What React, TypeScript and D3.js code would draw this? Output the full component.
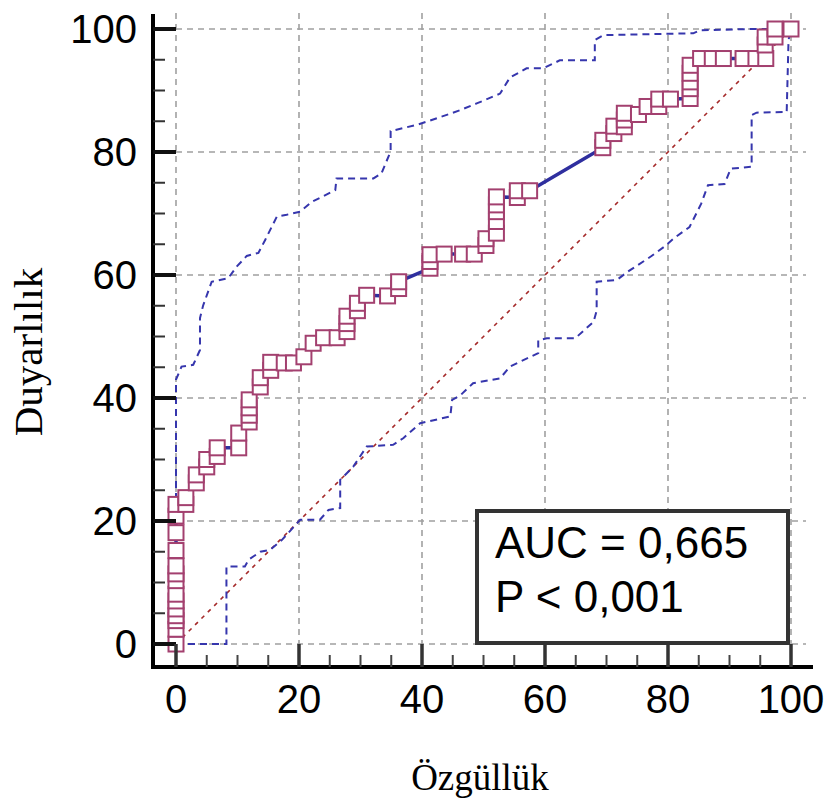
import React from "react";
import * as d3 from "d3";

// ROC points: [100 - specificity-ish axis value, sensitivity]
const rocX = [0,0,0,0,0,0,0,0,0,0,0,0,0,0,
  1.6,1.6,3.3,3.3,5.0,5.0,6.7,6.7,10.2,10.2,
  11.9,11.9,11.9,11.9,13.7,13.7,15.4,15.4,17.6,19.1,20.8,22.3,24.0,26.2,
  27.8,27.8,27.8,29.5,29.5,31.0,34.4,36.2,36.2,
  41.3,41.3,41.3,43.6,46.6,48.5,50.4,50.4,
  52.1,52.1,52.1,52.1,52.1,55.5,55.5,57.5,
  69.4,69.4,71.2,71.2,72.9,72.9,72.9,75.2,76.6,78.5,78.5,80.4,
  83.6,83.6,83.6,83.6,83.6,85.3,87.2,89.0,92.2,94.3,95.9,
  95.8,95.8,97.4,97.4,100];
const rocY = [0,2.4,3.8,4.6,5.7,7.0,8.1,10.3,11.4,12.7,15.2,18.1,20.8,22.7,
  22.7,23.8,26.2,27.5,28.8,30.0,30.5,31.9,31.9,34.3,
  36.1,37.2,38.4,39.7,41.8,43.3,44.5,45.8,45.7,45.7,46.7,48.9,49.8,49.8,
  50.8,52.1,53.3,54.2,55.4,56.7,56.6,57.8,58.9,
  61.1,62.2,63.3,63.4,63.4,63.4,64.8,65.9,
  66.8,68.7,70.3,71.4,72.7,72.6,73.7,73.7,
  80.7,81.9,83.0,84.2,84.1,85.2,86.3,86.1,87.4,87.4,88.6,88.6,
  88.7,90.3,91.4,92.8,94.1,95.2,95.2,95.2,95.2,95.2,95.2,
  97.4,98.7,98.7,100,100];

const upperX = [0,0,0.9,2.8,3.9,3.9,4.4,5.8,8.5,9.9,11.5,13.4,14.5,16.4,18,20.2,22.1,25.9,26.1,32.1,33.4,34.9,34.9,39.1,41.3,46.2,48.9,52.7,54.3,57,59.7,62.4,68.1,68.1,69.5,84.1,85.2,93.9,100];
const upperY = [0,43,45.1,45.4,47.8,53,55,58.9,59.5,61.4,63.1,63.6,65.7,69.5,69.8,70.3,71.9,73.8,75.7,75.7,76.5,80.1,83.4,84.4,85.1,86.8,87.9,89.5,92.1,93.6,93.6,94.9,94.9,98.2,99,99.3,99.8,100,100];

const lowerX = [0,8.2,8.2,11.2,11.8,13.7,15.3,17.2,20.2,23.4,24.8,26.7,26.7,28.8,31,35.3,37,39.7,44.6,44.9,46.2,48.3,52.7,54.3,57,58.9,58.9,60.3,64.9,67.9,68.4,68.4,71.7,73.4,77.2,79.4,81,83.5,85.4,86.5,89.2,90.2,93.6,93.6,94.4,99.3,99.6,100];
const lowerY = [0,0,12.6,12.6,13.7,15,15.3,16.9,20.2,20.2,21.8,22.1,26.7,28.8,32.1,32.4,33.5,35.9,37,39.7,40.4,42.4,43.2,45.1,46.4,47.3,49.4,49.7,49.7,52.4,54.2,58.9,59.2,60.5,63,64.6,66,67.8,71.6,74.6,74.8,77.3,77.6,86,86.4,86.5,98.2,100];

const tickValues = [0, 20, 40, 60, 80, 100];
const minorTicks = d3.range(0, 101, 5);
const xTitle = "Özgüllük";
const yTitle = "Duyarlılık";
const statLines = ["AUC = 0,665", "P < 0,001"];

export default function App() {
  const x = d3.scaleLinear().domain([0, 100]).range([176, 791]);
  const y = d3.scaleLinear().domain([0, 100]).range([644, 29]);
  const line = d3.line<[number, number]>().x((d) => x(d[0])).y((d) => y(d[1]));
  const roc: [number, number][] = rocX.map((v, i) => [v, rocY[i]]);
  const up: [number, number][] = upperX.map((v, i) => [v, upperY[i]]);
  const lo: [number, number][] = lowerX.map((v, i) => [v, lowerY[i]]);
  const axisFont = "'Liberation Sans', Arial, sans-serif";
  const serif = "'Liberation Serif', 'Times New Roman', serif";
  const ms = 15;
  return (
    <svg width={828} height={812} style={{ position: "absolute", left: 0, top: 0, background: "#fff" }}>
      <rect x={0} y={0} width={828} height={812} fill="#fff" />
      {/* grid */}
      {tickValues.map((t) => (
        <line key={"gv" + t} x1={x(t)} x2={x(t)} y1={13} y2={y(0)} stroke="#a0a0a0" strokeWidth={1.6} strokeDasharray="6,5" />
      ))}
      {tickValues.map((t) => (
        <line key={"gh" + t} x1={x(0)} x2={806} y1={y(t)} y2={y(t)} stroke="#a0a0a0" strokeWidth={1.6} strokeDasharray="6,5" />
      ))}
      {/* diagonal */}
      <path d={line([[0, 0], [100, 100]]) || ""} stroke="#a52a2a" strokeWidth={1.6} strokeDasharray="4,5" fill="none" />
      {/* CI bands */}
      <path d={line(up) || ""} stroke="#3636ad" strokeWidth={2} strokeDasharray="7,5" fill="none" />
      <path d={line(lo) || ""} stroke="#3636ad" strokeWidth={2} strokeDasharray="7,5" fill="none" />
      {/* ROC */}
      <path d={line(roc) || ""} stroke="#2f2f9f" strokeWidth={3.5} fill="none" />
      {roc.map((d, i) => (
        <rect key={"m" + i} x={x(d[0]) - ms / 2} y={y(d[1]) - ms / 2} width={ms} height={ms} fill="#fff" stroke="#a3406f" strokeWidth={2} />
      ))}
      {/* stats box */}
      <rect x={477} y={511} width={311} height={132} fill="#fff" stroke="#333" strokeWidth={4} />
      {statLines.map((s, i) => (
        <text key={s} x={495} y={558 + i * 54} fontFamily={axisFont} fontSize={44} fill="#000">{s}</text>
      ))}
      {/* axes */}
      <line x1={153} x2={153} y1={14} y2={669} stroke="#000" strokeWidth={4} />
      <line x1={151} x2={813} y1={667} y2={667} stroke="#000" strokeWidth={4} />
      {minorTicks.map((t) => {
        const major = t % 20 === 0;
        return (
          <g key={"t" + t}>
            <line x1={153} x2={major ? 176 : 165} y1={y(t)} y2={y(t)} stroke={major ? "#111" : "#333"} strokeWidth={major ? 4 : 2} />
            <line x1={x(t)} x2={x(t)} y1={667} y2={major ? 644 : 655} stroke={major ? "#333" : "#444"} strokeWidth={major ? 3.5 : 2} />
          </g>
        );
      })}
      {tickValues.map((t) => (
        <text key={"yl" + t} x={137} y={y(t) + 14} textAnchor="end" fontFamily={axisFont} fontSize={40} fill="#000">{t}</text>
      ))}
      {tickValues.map((t) => (
        <text key={"xl" + t} x={x(t)} y={713} textAnchor="middle" fontFamily={axisFont} fontSize={40} fill="#000">{t}</text>
      ))}
      <text x={480} y={790} textAnchor="middle" fontFamily={serif} fontSize={37} fill="#000">{xTitle}</text>
      <text transform="translate(42,352) rotate(-90)" textAnchor="middle" fontFamily={serif} fontSize={41} fill="#000">{yTitle}</text>
    </svg>
  );
}
